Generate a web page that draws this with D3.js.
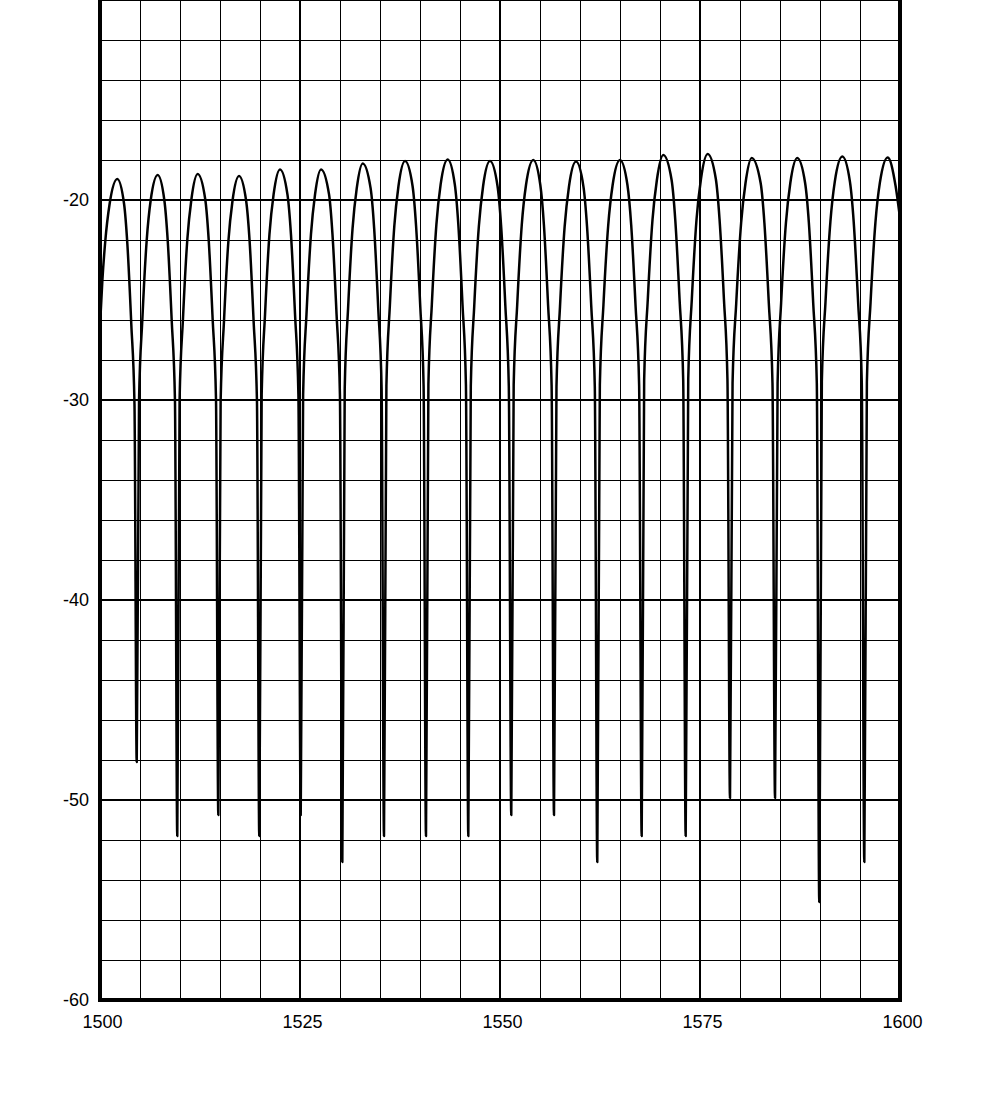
<!DOCTYPE html>
<html>
<head>
<meta charset="utf-8">
<script src="https://cdn.jsdelivr.net/npm/d3@7"></script>
<style>
  body { margin: 0; background: #fff; }
  svg { display: block; }
</style>
</head>
<body>
<div id="vis-container"></div>
<script>
// Trace: wavelength (nm) and level (dB), one lobe per line
const wavelength = [
  1500.00, 1500.30, 1500.65, 1501.20, 1502.16, 1503.01, 1503.42, 1503.91, 1504.31, 1504.59,
  1504.88, 1505.29, 1505.84, 1506.34, 1507.21, 1508.04, 1508.46, 1508.96, 1509.37, 1509.66,
  1509.95, 1510.37, 1510.92, 1511.43, 1512.21, 1513.15, 1513.58, 1514.08, 1514.50, 1514.79,
  1515.08, 1515.50, 1516.05, 1516.56, 1517.38, 1518.27, 1518.70, 1519.20, 1519.62, 1519.91,
  1520.21, 1520.63, 1521.18, 1521.70, 1522.50, 1523.43, 1523.87, 1524.38, 1524.80, 1525.09,
  1525.39, 1525.81, 1526.37, 1526.88, 1527.63, 1528.63, 1529.06, 1529.57, 1529.99, 1530.29,
  1530.59, 1531.01, 1531.57, 1532.09, 1532.84, 1533.83, 1534.27, 1534.78, 1535.20, 1535.50,
  1535.80, 1536.23, 1536.79, 1537.31, 1538.13, 1539.07, 1539.51, 1540.03, 1540.45, 1540.75,
  1541.05, 1541.48, 1542.05, 1542.58, 1543.46, 1544.35, 1544.79, 1545.31, 1545.74, 1546.04,
  1546.35, 1546.78, 1547.36, 1547.89, 1548.75, 1549.69, 1550.14, 1550.67, 1551.10, 1551.41,
  1551.71, 1552.15, 1552.72, 1553.25, 1554.16, 1555.04, 1555.49, 1556.01, 1556.45, 1556.75,
  1557.06, 1557.50, 1558.08, 1558.62, 1559.50, 1560.43, 1560.88, 1561.41, 1561.85, 1562.16,
  1562.48, 1562.93, 1563.53, 1564.08, 1565.00, 1565.93, 1566.40, 1566.94, 1567.39, 1567.71,
  1568.02, 1568.47, 1569.06, 1569.61, 1570.41, 1571.45, 1571.91, 1572.45, 1572.90, 1573.21,
  1573.53, 1573.98, 1574.57, 1575.12, 1575.96, 1576.98, 1577.44, 1577.99, 1578.43, 1578.75,
  1579.07, 1579.53, 1580.14, 1580.69, 1581.46, 1582.58, 1583.05, 1583.60, 1584.06, 1584.38,
  1584.70, 1585.14, 1585.74, 1586.29, 1587.16, 1588.14, 1588.61, 1589.15, 1589.60, 1589.91,
  1590.23, 1590.69, 1591.30, 1591.85, 1592.79, 1593.74, 1594.21, 1594.76, 1595.22, 1595.54,
  1595.86, 1596.32, 1596.93, 1597.49, 1598.46, 1599.45, 1600.00
];
const level = [
  -26.3, -24.0, -22.1, -20.2, -18.95, -20.2, -22.2, -26.2, -30.2, -48.1,
  -30.0, -26.0, -22.0, -20.0, -18.75, -20.0, -22.0, -26.0, -30.0, -51.8,
  -29.95, -25.95, -21.95, -19.95, -18.7, -19.95, -21.95, -25.95, -29.95, -50.75,
  -30.05, -26.05, -22.05, -20.05, -18.8, -20.05, -22.05, -26.05, -30.05, -51.8,
  -29.72, -25.72, -21.72, -19.72, -18.47, -19.72, -21.72, -25.72, -29.72, -50.75,
  -29.72, -25.72, -21.72, -19.72, -18.47, -19.72, -21.72, -25.72, -29.72, -53.1,
  -29.42, -25.42, -21.42, -19.42, -18.17, -19.42, -21.42, -25.42, -29.42, -51.8,
  -29.3, -25.3, -21.3, -19.3, -18.05, -19.3, -21.3, -25.3, -29.3, -51.8,
  -29.22, -25.22, -21.22, -19.22, -17.97, -19.22, -21.22, -25.22, -29.22, -51.8,
  -29.3, -25.3, -21.3, -19.3, -18.05, -19.3, -21.3, -25.3, -29.3, -50.75,
  -29.25, -25.25, -21.25, -19.25, -18.0, -19.25, -21.25, -25.25, -29.25, -50.75,
  -29.33, -25.33, -21.33, -19.33, -18.08, -19.33, -21.33, -25.33, -29.33, -53.1,
  -29.25, -25.25, -21.25, -19.25, -18.0, -19.25, -21.25, -25.25, -29.25, -51.8,
  -29.0, -25.0, -21.0, -19.0, -17.75, -19.0, -21.0, -25.0, -29.0, -51.8,
  -28.95, -24.95, -20.95, -18.95, -17.7, -18.95, -20.95, -24.95, -28.95, -49.9,
  -29.15, -25.15, -21.15, -19.15, -17.9, -19.15, -21.15, -25.15, -29.15, -49.9,
  -29.15, -25.15, -21.15, -19.15, -17.9, -19.15, -21.15, -25.15, -29.15, -55.1,
  -29.08, -25.08, -21.08, -19.08, -17.83, -19.08, -21.08, -25.08, -29.08, -53.1,
  -29.12, -25.12, -21.12, -19.12, -17.87, -19.3, -20.9
];

// Tick labels
const xTicks = [1500, 1525, 1550, 1575, 1600];
const yTicks = [-20, -30, -40, -50, -60];

// Set margins and dimensions
const margin = { top: 0, right: 100, bottom: 100, left: 100 };
const width = 1000;
const height = 1100;
const plotBottom = 1000;

const svg = d3.select("#vis-container")
  .append("svg")
  .attr("width", width)
  .attr("height", height)
  .attr("viewBox", [0, 0, width, height]);

// Scales
const x = d3.scaleLinear()
  .domain([1500, 1600])
  .range([margin.left, width - margin.right]);

const y = d3.scaleLinear()
  .domain([-60, -10])
  .range([plotBottom, margin.top]);

// Grid: minor every 5 nm / 2 dB, major every 25 nm / 10 dB
const grid = svg.append("g").attr("stroke", "#000").attr("shape-rendering", "crispEdges");

grid.selectAll(".vgrid")
  .data(x.ticks(20))
  .enter()
  .append("line")
  .attr("class", "vgrid")
  .attr("x1", d => x(d))
  .attr("x2", d => x(d))
  .attr("y1", y(-10))
  .attr("y2", y(-60))
  .attr("stroke-width", d => (d % 25 === 0 ? 2 : 1));

grid.selectAll(".hgrid")
  .data(y.ticks(25))
  .enter()
  .append("line")
  .attr("class", "hgrid")
  .attr("x1", x(1500))
  .attr("x2", x(1600))
  .attr("y1", d => y(d))
  .attr("y2", d => y(d))
  .attr("stroke-width", d => (d % 10 === 0 ? 2 : 1));

// Frame: left, bottom, right
svg.append("path")
  .attr("d", `M${x(1500)},${y(-10)}V${y(-60)}H${x(1600)}V${y(-10)}`)
  .attr("fill", "none")
  .attr("stroke", "#000")
  .attr("stroke-width", 4);

// Trace
const points = wavelength.map((w, i) => [w, level[i]]);

const line = d3.line()
  .x(d => x(d[0]))
  .y(d => y(d[1]))
  .curve(d3.curveMonotoneX);

svg.append("path")
  .datum(points)
  .attr("d", line)
  .attr("fill", "none")
  .attr("stroke", "#000")
  .attr("stroke-width", 2.5)
  .attr("stroke-linejoin", "round");

// Axes (labels only)
svg.append("g")
  .attr("transform", `translate(2,${plotBottom})`)
  .call(d3.axisBottom(x).tickValues(xTicks).tickFormat(d => String(d)).tickSize(0).tickPadding(15))
  .attr("font-size", "18px")
  .attr("font-family", "'Liberation Sans', Arial, sans-serif")
  .call(g => g.select(".domain").remove())
  .call(g => g.selectAll("text").attr("fill", "#000"));

svg.append("g")
  .attr("transform", `translate(${margin.left},0)`)
  .call(d3.axisLeft(y).tickValues(yTicks).tickFormat(d => String(d)).tickSize(0).tickPadding(11))
  .attr("font-size", "18px")
  .attr("font-family", "'Liberation Sans', Arial, sans-serif")
  .call(g => g.select(".domain").remove())
  .call(g => g.selectAll("text").attr("fill", "#000"));
</script>
</body>
</html>
